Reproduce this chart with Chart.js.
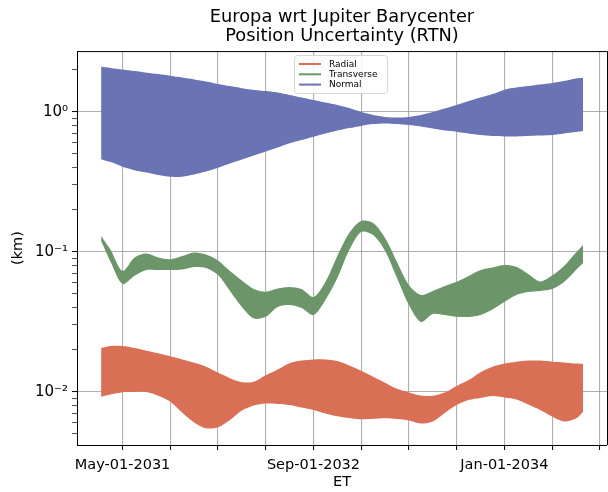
<!DOCTYPE html>
<html>
<head>
<meta charset="utf-8">
<script src="https://cdn.jsdelivr.net/npm/chart.js@4.4.1/dist/chart.umd.min.js"></script>
<style>
  html, body { margin: 0; padding: 0; background: #fff; }
  canvas { display: block; }
</style>
</head>
<body>
<canvas id="chart" width="608" height="492"></canvas>
<script>
/* Europa wrt Jupiter Barycenter - RTN position uncertainty bands */

// --- Data: x in months since Jan-01-2031, values in km ---
const months = [2.2, 3, 4, 5, 6, 7, 8, 9, 10, 11, 12, 13, 14, 15, 16, 17, 18, 19, 20, 21, 22,
  23, 24, 25, 26, 27, 28, 29, 30, 31, 32, 33, 34, 35, 36, 37, 38, 39, 40, 41, 42, 42.6];

const radialHi = [0.0205, 0.0212, 0.0212, 0.0205, 0.0196, 0.0188, 0.0179, 0.0170, 0.0161, 0.0151,
  0.0137, 0.0125, 0.0117, 0.0118, 0.0131, 0.0144, 0.0160, 0.0167, 0.0170, 0.0170, 0.0166,
  0.0154, 0.0141, 0.0128, 0.0116, 0.0105, 0.00989, 0.00940, 0.00935, 0.00987, 0.0110,
  0.0121, 0.0138, 0.0151, 0.0159, 0.0164, 0.0167, 0.0167, 0.0164, 0.0162, 0.0159, 0.0158];
const radialLo = [0.00921, 0.00955, 0.00990, 0.00995, 0.00995, 0.00935, 0.00847, 0.00707, 0.00603,
  0.00548, 0.00557, 0.00628, 0.00734, 0.00797, 0.00823, 0.00817, 0.00804, 0.00771, 0.00740,
  0.00699, 0.00668, 0.00649, 0.00635, 0.00640, 0.00646, 0.00638, 0.00623, 0.00593, 0.00613,
  0.00705, 0.00804, 0.00872, 0.00902, 0.00932, 0.00909, 0.00880, 0.00810, 0.00740, 0.00665,
  0.00613, 0.00644, 0.00720];

const transHi = [0.1295, 0.1028, 0.0728, 0.0909, 0.0971, 0.0909, 0.0884, 0.0932, 0.0989, 0.0955,
  0.0866, 0.0728, 0.0623, 0.0541, 0.0518, 0.0546, 0.0560, 0.0541, 0.0475, 0.0608, 0.0932,
  0.1360, 0.1657, 0.1603, 0.1253, 0.0845, 0.0578, 0.0491, 0.0524, 0.0569, 0.0611,
  0.0671, 0.0740, 0.0771, 0.0804, 0.0781, 0.0693, 0.0613, 0.0676, 0.0790, 0.0987, 0.1116];
const transLo = [0.1192, 0.0845, 0.0588, 0.0673, 0.0740, 0.0740, 0.0740, 0.0746, 0.0778, 0.0765,
  0.0682, 0.0524, 0.0403, 0.0333, 0.0343, 0.0403, 0.0416, 0.0396, 0.0353, 0.0452, 0.0649,
  0.1028, 0.1382, 0.1316, 0.1012, 0.0649, 0.0416, 0.0315, 0.0359, 0.0353, 0.0343,
  0.0342, 0.0353, 0.0387, 0.0437, 0.0491, 0.0515, 0.0524, 0.0541, 0.0608, 0.0740, 0.0831];

const normalHi = [2.096, 2.059, 2.002, 1.953, 1.905, 1.859, 1.808, 1.755, 1.704, 1.649,
  1.582, 1.526, 1.476, 1.434, 1.406, 1.371, 1.316, 1.263, 1.212, 1.163, 1.117,
  1.063, 0.995, 0.947, 0.917, 0.909, 0.917, 0.947, 0.995, 1.054, 1.117,
  1.192, 1.263, 1.338, 1.440, 1.489, 1.526, 1.564, 1.603, 1.657, 1.726, 1.749];
const normalLo = [0.459, 0.437, 0.405, 0.383, 0.368, 0.353, 0.343, 0.344, 0.356, 0.374,
  0.399, 0.427, 0.456, 0.487, 0.520, 0.555, 0.595, 0.628, 0.663, 0.699, 0.734,
  0.765, 0.793, 0.817, 0.826, 0.817, 0.804, 0.784, 0.759, 0.734, 0.720,
  0.699, 0.682, 0.671, 0.667, 0.667, 0.671, 0.676, 0.682, 0.699, 0.716, 0.728];

// --- Axes ---
const xTickMonths = [4, 8, 12, 16, 20, 24, 28, 32, 36, 40, 44];
const xTickLabels = ['May-01-2031', '', '', '', 'Sep-01-2032', '', '', '', 'Jan-01-2034', '', ''];
const yMajor = [0.01, 0.1, 1];
const yMajorLabels = ['10\u207B\u00B2', '10\u207B\u00B9', '10\u2070'];
const yMinor = [0.005, 0.006, 0.007, 0.008, 0.009,
  0.02, 0.03, 0.04, 0.05, 0.06, 0.07, 0.08, 0.09,
  0.2, 0.3, 0.4, 0.5, 0.6, 0.7, 0.8, 0.9, 2];

const X_MIN = 0.18, X_MAX = 44.6;
const Y_MIN = 0.004161, Y_MAX = 2.715;

const COLORS = { radial: '#d97056', transverse: '#6c966a', normal: '#6a74b4' };
const GRID = 'rgba(150,150,150,0.75)';

Chart.defaults.font.family = "'DejaVu Sans', sans-serif";
Chart.defaults.color = '#000';

function pts(values) {
  return months.map((m, i) => ({ x: m, y: values[i] }));
}

// upper edge fills down to the lower edge
function band(label, color, hi, lo) {
  const common = { borderWidth: 0, pointRadius: 0, backgroundColor: color, tension: 0.3 };
  return [
    { ...common, label, data: pts(hi), fill: '+1', legendColor: color },
    { ...common, label: '', data: pts(lo), fill: false },
  ];
}

const isMajor = v => yMajor.some(m => Math.abs(m - v) / m < 1e-6);

// --- legend drawn inside the plot, upper centre ---
const bandLegend = {
  id: 'bandLegend',
  afterDraw(chart) {
    const { ctx } = chart;
    const items = chart.data.datasets.filter(d => d.label);
    const x = 294, y = 55, w = 93, h = 38;
    ctx.save();
    ctx.beginPath();
    ctx.roundRect(x + 0.5, y + 0.5, w, h, 3);
    ctx.fillStyle = 'rgba(255,255,255,0.85)';
    ctx.fill();
    ctx.strokeStyle = '#d5d5d5';
    ctx.lineWidth = 1;
    ctx.stroke();
    ctx.font = "9px 'DejaVu Sans'";
    ctx.textBaseline = 'middle';
    ctx.fillStyle = '#000';
    items.forEach((d, i) => {
      const ly = y + 9 + i * 10.3;
      ctx.beginPath();
      ctx.moveTo(x + 5, ly);
      ctx.lineTo(x + 27, ly);
      ctx.strokeStyle = d.legendColor;
      ctx.lineWidth = 2;
      ctx.stroke();
      ctx.fillText(d.label, x + 35, ly + 0.5);
    });
    ctx.restore();
  }
};

// --- top and right spines ---
const frame = {
  id: 'frame',
  afterDraw(chart) {
    const { ctx, chartArea: a } = chart;
    ctx.save();
    ctx.strokeStyle = '#000';
    ctx.lineWidth = 1;
    ctx.beginPath();
    ctx.moveTo(a.left, a.top + 0.5);
    ctx.lineTo(a.right + 0.5, a.top + 0.5);
    ctx.lineTo(a.right + 0.5, a.bottom);
    ctx.stroke();
    ctx.restore();
  }
};

new Chart(document.getElementById('chart'), {
  type: 'line',
  data: {
    datasets: [
      ...band('Radial', COLORS.radial, radialHi, radialLo),
      ...band('Transverse', COLORS.transverse, transHi, transLo),
      ...band('Normal', COLORS.normal, normalHi, normalLo),
    ],
  },
  plugins: [bandLegend, frame],
  options: {
    responsive: false,
    animation: false,
    events: [],
    layout: { padding: { left: 0, right: 1, top: 0, bottom: 0 } },
    scales: {
      x: {
        type: 'linear',
        min: X_MIN,
        max: X_MAX,
        z: 1,
        afterFit: s => { s.height = 47; },
        afterBuildTicks: s => { s.ticks = xTickMonths.map(v => ({ value: v })); },
        ticks: {
          autoSkip: false,
          maxRotation: 0,
          padding: 7,
          font: { size: 14.5 },
          color: '#000',
          callback: (v, i) => xTickLabels[i],
        },
        grid: { color: GRID, lineWidth: 1.1, tickColor: '#000', tickLength: 5, tickWidth: 1 },
        border: { color: '#000', width: 1 },
        title: { display: true, text: 'ET', font: { size: 14.5 }, color: '#000', padding: { top: 0, bottom: 1.3 } },
      },
      y: {
        type: 'logarithmic',
        min: Y_MIN,
        max: Y_MAX,
        z: 1,
        afterFit: s => { s.width = 77; },
        afterBuildTicks: s => {
          s.ticks = yMajor.concat(yMinor).sort((a, b) => a - b).map(v => ({ value: v }));
        },
        ticks: {
          autoSkip: false,
          padding: 4,
          font: { size: 15 },
          color: '#000',
          callback: v => {
            const k = yMajor.findIndex(m => Math.abs(m - v) / m < 1e-6);
            return k >= 0 ? yMajorLabels[k] : '';
          },
        },
        grid: {
          color: c => (c.tick && isMajor(c.tick.value) ? GRID : 'rgba(0,0,0,0)'),
          lineWidth: 1.1,
          tickColor: '#000',
          tickLength: 5,
          tickWidth: c => (c.tick && isMajor(c.tick.value) ? 1 : 0.7),
        },
        border: { color: '#000', width: 1 },
        title: { display: true, text: '(km)', font: { size: 14.5 }, color: '#000', padding: { top: 9.3, bottom: 0 } },
      },
    },
    plugins: {
      legend: { display: false },
      tooltip: { enabled: false },
      title: {
        display: true,
        text: ['Europa wrt Jupiter Barycenter', 'Position Uncertainty (RTN)'],
        fullSize: false,
        color: '#000',
        font: { size: 17.8, weight: 'normal', lineHeight: 1.07 },
        padding: { top: 7.5, bottom: 5.5 },
      },
    },
  },
});
</script>
</body>
</html>
